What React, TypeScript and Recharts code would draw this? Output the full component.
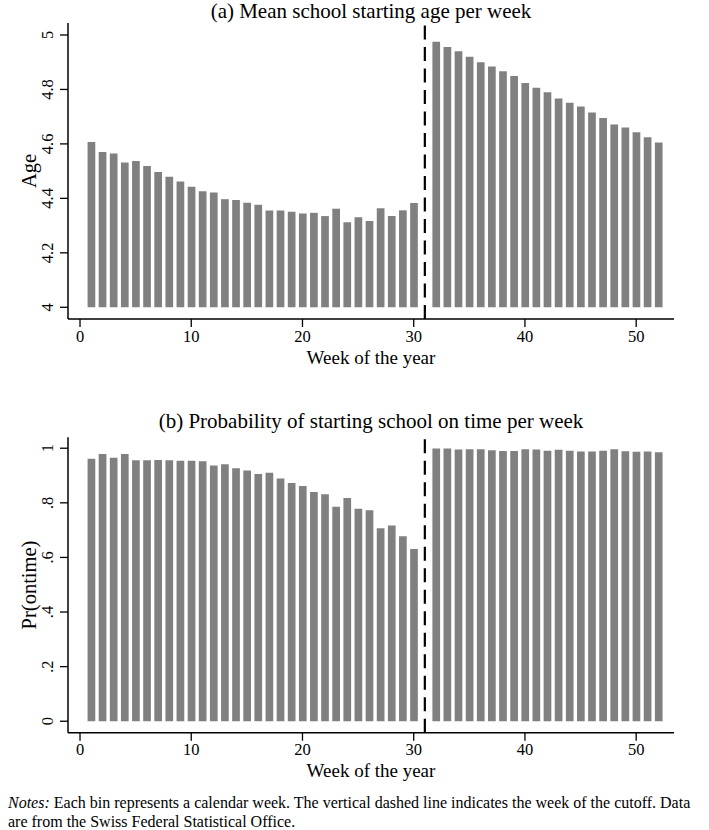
import { BarChart, Bar, XAxis, YAxis, ReferenceLine, Label } from 'recharts';

// weeks with a bin (week 31 is the cutoff and has none)
const weeks = [
  1, 2, 3, 4, 5, 6, 7, 8, 9, 10, 11, 12, 13, 14, 15, 16, 17, 18, 19, 20,
  21, 22, 23, 24, 25, 26, 27, 28, 29, 30,
  32, 33, 34, 35, 36, 37, 38, 39, 40, 41, 42, 43, 44, 45, 46, 47, 48, 49, 50, 51, 52,
];

const meanAge = [
  4.607, 4.570, 4.565, 4.532, 4.537, 4.519, 4.497, 4.479, 4.462, 4.443,
  4.426, 4.422, 4.397, 4.394, 4.384, 4.377, 4.355, 4.355, 4.351, 4.344,
  4.347, 4.335, 4.362, 4.312, 4.331, 4.317, 4.364, 4.335, 4.356, 4.383,
  4.975, 4.956, 4.940, 4.920, 4.900, 4.884, 4.867, 4.849, 4.824, 4.806,
  4.790, 4.767, 4.751, 4.737, 4.715, 4.695, 4.671, 4.660, 4.643, 4.624, 4.605,
];

const prOnTime = [
  0.961, 0.979, 0.965, 0.979, 0.956, 0.956, 0.957, 0.956, 0.954, 0.954,
  0.952, 0.937, 0.941, 0.927, 0.918, 0.906, 0.910, 0.889, 0.873, 0.862,
  0.840, 0.831, 0.786, 0.818, 0.778, 0.773, 0.707, 0.717, 0.678, 0.631,
  0.999, 0.999, 0.995, 0.996, 0.996, 0.993, 0.990, 0.990, 0.996, 0.995,
  0.991, 0.994, 0.991, 0.988, 0.988, 0.991, 0.996, 0.989, 0.987, 0.988, 0.985,
];

const weekTicks = [0, 10, 20, 30, 40, 50];
const ageTicks = [4, 4.2, 4.4, 4.6, 4.8, 5];
const prTicks = [0, 0.2, 0.4, 0.6, 0.8, 1];
const cutoffWeek = 31;

const ageData = weeks.map((week, i) => ({ week, range: [4, meanAge[i]] }));
const prData = weeks.map((week, i) => ({ week, range: [0, prOnTime[i]] }));

const FONT = '"Liberation Serif", "DejaVu Serif", serif';
const BAR_COLOR = '#808080';

const fmtAge = (v: number) => (Math.abs(v - 4) < 1e-6 ? '4' : Math.abs(v - 5) < 1e-6 ? '5' : v.toFixed(1));
const fmtPr = (v: number) => {
  if (Math.abs(v) < 1e-6) return '0';
  if (Math.abs(v - 1) < 1e-6) return '1';
  return v.toFixed(1).replace('0.', '.');
};

// Stata-style vertical y tick labels
const RotatedTick = ({ y, payload, format }: any) => (
  <text
    x={48}
    y={y}
    transform={`rotate(-90 48 ${y})`}
    textAnchor="middle"
    dominantBaseline="central"
    fontFamily={FONT}
    fontSize={16.5}
    fill="#000"
  >
    {format(payload.value)}
  </text>
);

const YTitle = ({ viewBox, text }: any) => {
  const cy = viewBox.y + viewBox.height / 2;
  return (
    <text
      x={29}
      y={cy}
      transform={`rotate(-90 29 ${cy})`}
      textAnchor="middle"
      dominantBaseline="central"
      fontFamily={FONT}
      fontSize={20.5}
      fill="#000"
    >
      {text}
    </text>
  );
};

const XTitle = ({ viewBox, dy }: any) => (
  <text
    x={viewBox.x + viewBox.width / 2}
    y={viewBox.y + dy}
    textAnchor="middle"
    dominantBaseline="central"
    fontFamily={FONT}
    fontSize={19}
    fill="#000"
  >
    Week of the year
  </text>
);

const titleStyle = (top: number): React.CSSProperties => ({
  position: 'absolute',
  top,
  left: 21,
  width: 700,
  textAlign: 'center',
  fontFamily: FONT,
  fontSize: 21,
  lineHeight: '22px',
  color: '#000',
  whiteSpace: 'nowrap',
});

const axisLine = { stroke: '#000', strokeWidth: 1.5 };

function Panel({ data, domain, ticks, format, yTitle, top, height, marginTop, xAxisHeight, xTitleDy }: any) {
  return (
    <div style={{ position: 'absolute', left: 0, top }}>
      <BarChart
        width={709}
        height={height}
        data={data}
        margin={{ top: marginTop, right: 35, bottom: 0, left: 0 }}
      >
        <XAxis
          dataKey="week"
          type="number"
          domain={[-1.08, 53.4]}
          ticks={weekTicks}
          allowDataOverflow
          height={xAxisHeight}
          axisLine={axisLine}
          tickLine={{ stroke: '#000', strokeWidth: 1.3 }}
          tickSize={8}
          tickMargin={3}
          tick={{ fontFamily: FONT, fontSize: 16.5, fill: '#000' }}
        >
          <Label content={(p: any) => <XTitle {...p} dy={xTitleDy} />} />
        </XAxis>
        <YAxis
          type="number"
          domain={domain}
          ticks={ticks}
          allowDataOverflow
          width={68}
          axisLine={axisLine}
          tickLine={{ stroke: '#000', strokeWidth: 1.3 }}
          tickSize={8}
          tick={(p: any) => <RotatedTick {...p} format={format} />}
        >
          <Label content={(p: any) => <YTitle {...p} text={yTitle} />} />
        </YAxis>
        <Bar dataKey="range" fill={BAR_COLOR} barSize={7.7} isAnimationActive={false} />
        <ReferenceLine x={cutoffWeek} stroke="#000" strokeWidth={2.2} strokeDasharray="14 7.5" />
      </BarChart>
    </div>
  );
}

export default function App() {
  return (
    <div style={{ position: 'absolute', left: 0, top: 0, width: 709, height: 830, background: '#fff' }}>
      <div style={titleStyle(0)}>(a) Mean school starting age per week</div>
      <Panel
        data={ageData}
        domain={[3.957, 5.044]}
        ticks={ageTicks}
        format={fmtAge}
        yTitle="Age"
        top={0}
        height={380}
        marginTop={23}
        xAxisHeight={61}
        xTitleDy={38}
      />
      <div style={titleStyle(410)}>(b) Probability of starting school on time per week</div>
      <Panel
        data={prData}
        domain={[-0.042, 1.04]}
        ticks={prTicks}
        format={fmtPr}
        yTitle="Pr(ontime)"
        top={400}
        height={400}
        marginTop={37.3}
        xAxisHeight={67.3}
        xTitleDy={37.5}
      />
      <div
        style={{
          position: 'absolute',
          left: 8,
          top: 794,
          fontFamily: FONT,
          fontSize: 16,
          lineHeight: '18.5px',
          color: '#000',
          whiteSpace: 'nowrap',
        }}
      >
        <i>Notes:</i> Each bin represents a calendar week. The vertical dashed line indicates the week of the cutoff. Data
        <br />
        are from the Swiss Federal Statistical Office.
      </div>
    </div>
  );
}
